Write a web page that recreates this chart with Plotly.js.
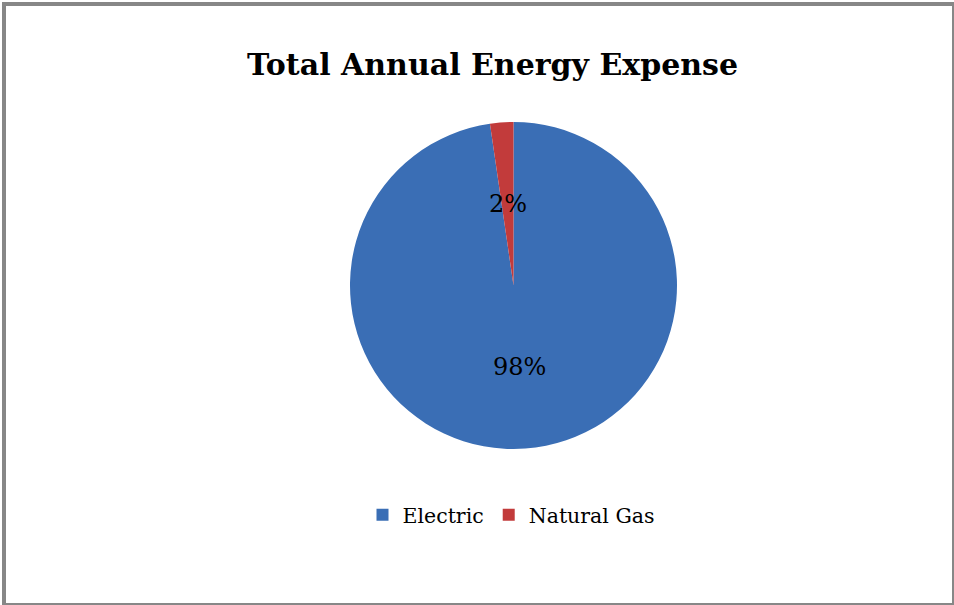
<!DOCTYPE html>
<html>
<head>
<meta charset="utf-8">
<script src="https://cdn.plot.ly/plotly-3.0.1.min.js"></script>
<style>
  html, body { margin: 0; padding: 0; background: #ffffff; }
  #chart { width: 954px; height: 605px; }
</style>
</head>
<body>
<div id="chart"></div>
<script>
// ---- data ----
const categories = ["Electric", "Natural Gas"];
const expenseShare = [97.7, 2.3];
const sliceColors = ["#3a6eb5", "#c23b3b"];
const chartTitle = "Total Annual Energy Expense";

// ---- layout constants ----
const W = 954, H = 605;
const cx = 513.5, cy = 285.5, R = 163.5;   // pixel geometry of the pie
const serif = "'DejaVu Serif', serif";

// label positions at half radius along each slice's bisector (derived from data)
const total = expenseShare.reduce((a, b) => a + b, 0);
let cum = 0;
const annotations = expenseShare.map((v, i) => {
  const mid = (cum + v / 2) / total * 2 * Math.PI; // clockwise from 12 o'clock
  cum += v;
  const px = cx + 0.5 * R * Math.sin(mid);
  const py = cy - 0.5 * R * Math.cos(mid);
  return {
    x: px / W, y: 1 - py / H, xref: "paper", yref: "paper",
    text: Math.round(v / total * 100) + "%",
    showarrow: false, xanchor: "center", yanchor: "middle",
    font: { family: serif, size: 24, color: "#000000" }
  };
});

const trace = {
  type: "pie",
  labels: categories,
  values: expenseShare,
  sort: false,
  direction: "clockwise",
  rotation: 0,
  marker: { colors: sliceColors, line: { width: 0 } },
  textinfo: "none",
  hoverinfo: "label+percent",
  domain: { x: [(cx - R) / W, (cx + R) / W], y: [1 - (cy + R) / H, 1 - (cy - R) / H] }
};

const layout = {
  width: W, height: H,
  margin: { l: 0, r: 0, t: 0, b: 0 },
  paper_bgcolor: "#ffffff",
  title: {
    text: "<b>" + chartTitle + "</b>",
    x: 492.5 / W, xanchor: "center", xref: "paper",
    y: 1 - 64 / H, yanchor: "middle", yref: "paper",
    font: { family: serif, size: 30, color: "#000000" }
  },
  showlegend: true,
  legend: {
    orientation: "h",
    x: 362.5 / W, xanchor: "left",
    y: 1 - 515 / H, yanchor: "middle",
    font: { family: serif, size: 20.5, color: "#000000" },
    bgcolor: "rgba(0,0,0,0)"
  },
  annotations: annotations,
  shapes: [{
    type: "rect", xref: "paper", yref: "paper",
    x0: 4 / W, x1: 1, y0: 0, y1: 1 - 4 / H,
    line: { color: "#878787", width: 4 }, fillcolor: "rgba(0,0,0,0)"
  }]
};

Plotly.newPlot("chart", [trace], layout, { displayModeBar: false, staticPlot: true });
</script>
</body>
</html>
